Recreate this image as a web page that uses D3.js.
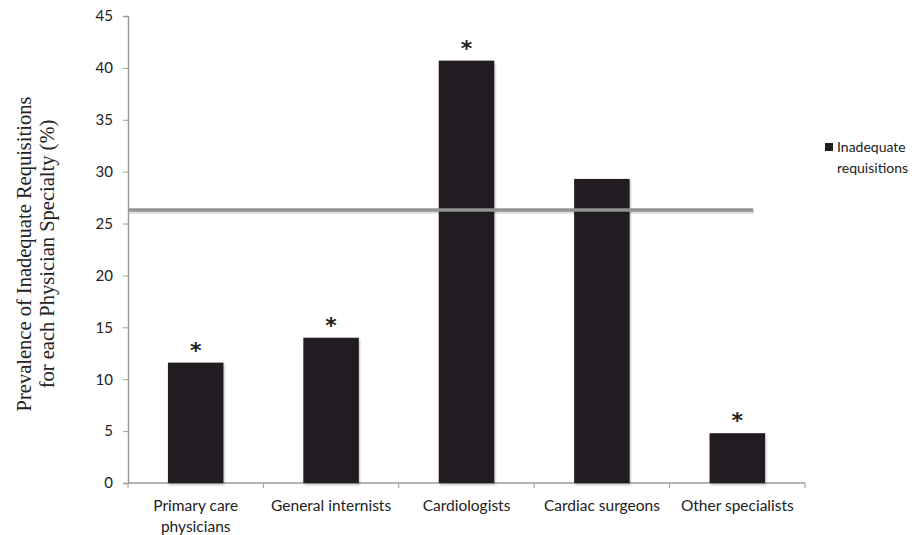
<!DOCTYPE html>
<html>
<head>
<meta charset="utf-8">
<script src="https://cdn.jsdelivr.net/npm/d3@7"></script>
<style>
  body { margin: 0; background: #fff; }
  text { fill: #222; }
</style>
</head>
<body>
<div id="chart"></div>
<script>
// data
const categories = ["Primary care physicians", "General internists", "Cardiologists", "Cardiac surgeons", "Other specialists"];
const catLines = [["Primary care", "physicians"], ["General internists"], ["Cardiologists"], ["Cardiac surgeons"], ["Other specialists"]];
const values = [11.6, 14.0, 40.7, 29.3, 4.8];
const significant = [true, true, true, false, true];
const overallRate = 26.3;
const yTicks = [0, 5, 10, 15, 20, 25, 30, 35, 40, 45];

const W = 921, H = 535;
const margin = {top: 16, right: 116, bottom: 52, left: 128},
    width = W - margin.left - margin.right,
    height = H - margin.top - margin.bottom;

const svg = d3.select("#chart")
  .append("svg")
  .attr("width", W)
  .attr("height", H);

// soft shadow like the original export
const defs = svg.append("defs");
const f = defs.append("filter").attr("id", "shadow")
  .attr("x", "-10%").attr("y", "-10%").attr("width", "130%").attr("height", "130%");
f.append("feDropShadow").attr("dx", 1).attr("dy", 2).attr("stdDeviation", 1.2)
  .attr("flood-color", "#000").attr("flood-opacity", 0.25);

const g = svg.append("g")
  .attr("transform", `translate(${margin.left},${margin.top})`);

const x = d3.scaleBand()
  .domain(categories)
  .range([0, width])
  .paddingInner(0.59)
  .paddingOuter(0.295);

const y = d3.scaleLinear()
  .domain([0, 45])
  .range([height, 0]);

// y axis
const yAxis = g.append("g")
  .call(d3.axisLeft(y).tickValues(yTicks).tickSize(5).tickPadding(10));
yAxis.select(".domain").attr("stroke", "#9a9a9a").attr("stroke-width", 1.5);
yAxis.selectAll(".tick line").attr("stroke", "#9a9a9a");
yAxis.selectAll(".tick text")
  .style("font-family", "Lato, 'Open Sans', sans-serif")
  .style("font-size", "15px")
  .attr("fill", "#222");

// x axis with ticks on category boundaries
const xb = g.append("g").attr("transform", `translate(0,${height})`);
xb.append("line")
  .attr("x1", 0).attr("x2", width)
  .attr("stroke", "#9a9a9a").attr("stroke-width", 1.5);
xb.selectAll(".bnd")
  .data(d3.range(categories.length + 1))
  .enter().append("line")
  .attr("x1", i => i * x.step()).attr("x2", i => i * x.step())
  .attr("y1", 0).attr("y2", 5)
  .attr("stroke", "#9a9a9a");

// bars
g.selectAll(".bar")
  .data(values)
  .enter().append("rect")
  .attr("class", "bar")
  .attr("x", (d, i) => x(categories[i]))
  .attr("width", x.bandwidth())
  .attr("y", d => y(d))
  .attr("height", d => height - y(d))
  .attr("fill", "#231f20")
  .attr("filter", "url(#shadow)");

// asterisks
g.selectAll(".star")
  .data(values.map((v, i) => ({v, i})).filter(d => significant[d.i]))
  .enter().append("text")
  .attr("x", d => x(categories[d.i]) + x.bandwidth() / 2)
  .attr("y", d => y(d.v) - 5)
  .attr("text-anchor", "middle")
  .style("font-family", "'DejaVu Sans', sans-serif")
  .style("font-weight", "bold")
  .style("font-size", "22px")
  .text("*");

// overall rate line (shadow stroke + main stroke)
const lineX2 = x(categories[4]) + x.bandwidth() / 2 + 16;
g.append("line")
  .attr("x1", 2).attr("x2", lineX2 + 1)
  .attr("y1", y(overallRate) + 2.5).attr("y2", y(overallRate) + 2.5)
  .attr("stroke", "#000").attr("stroke-opacity", 0.12)
  .attr("stroke-width", 3);
g.append("line")
  .attr("x1", 1).attr("x2", lineX2)
  .attr("y1", y(overallRate)).attr("y2", y(overallRate))
  .attr("stroke", "#929292")
  .attr("stroke-width", 3.5);

// category labels
const lab = g.selectAll(".cat")
  .data(catLines)
  .enter().append("text")
  .attr("text-anchor", "middle")
  .attr("transform", (d, i) => `translate(${x(categories[i]) + x.bandwidth() / 2},${height + 28})`)
  .style("font-family", "Lato, 'Open Sans', sans-serif")
  .style("font-size", "15.5px");
lab.selectAll("tspan")
  .data(d => d)
  .enter().append("tspan")
  .attr("x", 0)
  .attr("dy", (d, i) => i === 0 ? 0 : 21)
  .text(d => d);

// y axis title
const yt = svg.append("text")
  .attr("transform", `translate(31,254) rotate(-90)`)
  .attr("text-anchor", "middle")
  .style("font-family", "'Liberation Serif', 'Times New Roman', serif")
  .style("font-size", "20.5px");
yt.append("tspan").attr("x", 0).attr("dy", 0).text("Prevalence of Inadequate Requisitions");
yt.append("tspan").attr("x", 0).attr("dy", 23).text("for each Physician Specialty (%)");

// legend
const leg = svg.append("g").attr("transform", "translate(825,143)");
leg.append("rect").attr("width", 8).attr("height", 8).attr("fill", "#231f20");
leg.append("text")
  .attr("x", 12).attr("y", 9)
  .style("font-family", "Lato, 'Open Sans', sans-serif")
  .style("font-size", "14px")
  .text("Inadequate");
leg.append("text")
  .attr("x", 12).attr("y", 30)
  .style("font-family", "Lato, 'Open Sans', sans-serif")
  .style("font-size", "14px")
  .text("requisitions");
</script>
</body>
</html>
